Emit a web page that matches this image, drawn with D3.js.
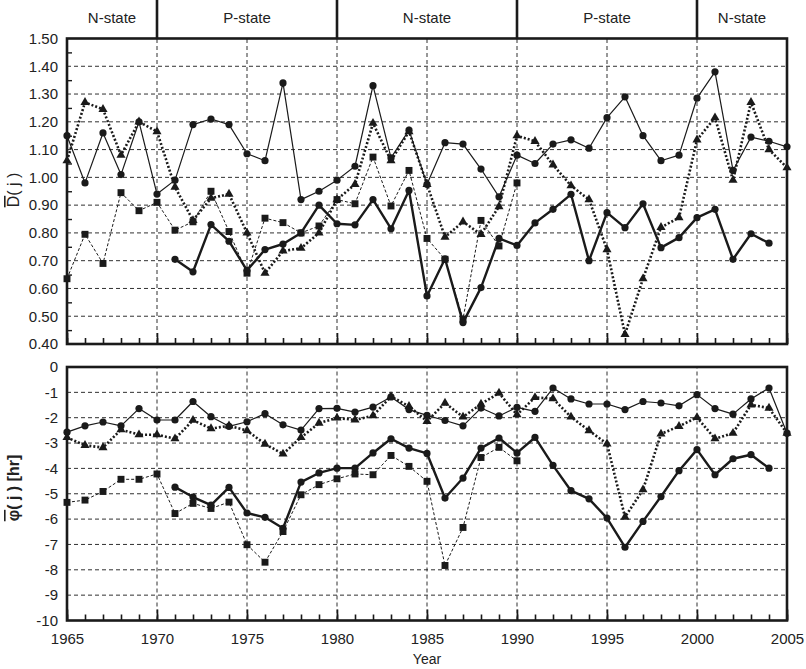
<!DOCTYPE html>
<html><head><meta charset="utf-8">
<script src="https://cdn.jsdelivr.net/npm/d3@7"></script>
<style>
body{margin:0;background:#fff;}
text{font-family:"Liberation Sans",Arial,sans-serif;fill:#222;}
</style></head>
<body><svg id="c" width="806" height="669"></svg>
<script>
const years = [1965,1966,1967,1968,1969,1970,1971,1972,1973,1974,1975,1976,1977,1978,1979,1980,1981,1982,1983,1984,1985,1986,1987,1988,1989,1990,1991,1992,1993,1994,1995,1996,1997,1998,1999,2000,2001,2002,2003,2004,2005];
// top panel D(j)
const dThinCircle = [1.15,0.98,1.16,1.01,1.20,0.94,0.99,1.19,1.21,1.19,1.085,1.06,1.34,0.92,0.95,0.99,1.04,1.33,1.07,1.17,0.975,1.125,1.12,1.03,0.93,1.08,1.05,1.12,1.135,1.105,1.215,1.29,1.15,1.06,1.08,1.285,1.38,1.025,1.145,1.13,1.11];
const dDotTriangle = [1.06,1.27,1.245,1.08,1.20,1.165,0.965,0.845,0.925,0.94,0.80,0.655,0.735,0.745,0.80,0.92,0.975,1.195,1.06,1.165,0.975,0.785,0.84,0.795,0.895,1.15,1.13,1.045,0.97,0.92,0.74,0.435,0.635,0.82,0.855,1.135,1.215,0.99,1.27,1.10,1.035];
const dDashSquare = [0.635,0.795,0.69,0.945,0.88,0.91,0.81,0.84,0.95,0.805,0.655,0.853,0.837,0.80,0.825,0.92,0.905,1.073,0.897,1.025,0.78,0.705,0.49,0.845,0.753,0.98,null,null,null,null,null,null,null,null,null,null,null,null,null,null,null];
const dThickCircle = [null,null,null,null,null,null,0.705,0.66,0.83,0.77,0.665,0.74,0.76,0.80,0.90,0.833,0.829,0.92,0.815,0.953,0.573,0.707,0.477,0.603,0.78,0.755,0.836,0.885,0.939,0.70,0.873,0.819,0.905,0.747,0.783,0.855,0.885,0.705,0.797,0.763,null];
// bottom panel phi(j) [hr]
const pThinCircle = [-2.57,-2.32,-2.17,-2.32,-1.64,-2.09,-2.09,-1.36,-1.96,-2.34,-2.16,-1.84,-2.28,-2.49,-1.64,-1.63,-1.78,-1.58,-1.18,-1.68,-1.91,-2.11,-2.32,-1.62,-1.93,-1.59,-1.75,-0.83,-1.26,-1.46,-1.46,-1.68,-1.36,-1.42,-1.53,-1.09,-1.64,-1.86,-1.26,-0.83,-2.61];
const pDotTriangle = [-2.78,-3.09,-3.18,-2.47,-2.67,-2.67,-2.83,-2.10,-2.43,-2.32,-2.51,-3.04,-3.43,-2.78,-2.21,-2.01,-2.09,-1.92,-1.16,-1.55,-2.14,-1.42,-1.97,-1.46,-1.03,-1.88,-1.20,-1.25,-1.97,-2.51,-3.03,-5.92,-4.84,-2.64,-2.34,-1.99,-2.83,-2.61,-1.49,-1.62,-2.61];
const pDashSquare = [-5.34,-5.25,-4.91,-4.43,-4.43,-4.22,-5.78,-5.38,-5.58,-5.33,-7.01,-7.70,-6.49,-5.04,-4.64,-4.41,-4.22,-4.25,-3.49,-3.92,-4.51,-7.83,-6.33,-3.57,-3.17,-3.70,null,null,null,null,null,null,null,null,null,null,null,null,null,null,null];
const pThickCircle = [null,null,null,null,null,null,-4.74,-5.13,-5.45,-4.75,-5.76,-5.93,-6.36,-4.54,-4.18,-3.99,-3.99,-3.39,-2.83,-3.20,-3.41,-5.17,-4.38,-3.20,-2.80,-3.39,-2.78,-3.88,-4.88,-5.20,-5.96,-7.11,-6.09,-5.11,-4.09,-3.26,-4.25,-3.62,-3.46,-3.99,null];
const topTicks = [0.4,0.5,0.6,0.7,0.8,0.9,1.0,1.1,1.2,1.3,1.4,1.5];
const botTicks = [0,-1,-2,-3,-4,-5,-6,-7,-8,-9,-10];
const yearTicks = [1965,1970,1975,1980,1985,1990,1995,2000,2005];
const stateBounds = [1965,1970,1980,1990,2000,2005];
const stateNames = ["N-state","P-state","N-state","P-state","N-state"];

const svg = d3.select("#c");
const x = d3.scaleLinear().domain([1965,2005]).range([67,787]);
const yT = d3.scaleLinear().domain([0.4,1.5]).range([344,38.5]);
const yB = d3.scaleLinear().domain([-10,0]).range([620.5,367]);
const ink = "#1a1a1a";

function panel(y, ticks, fmt, minorY, series, showX){
  const g = svg.append("g");
  const [y0,y1] = y.range();
  g.selectAll(null).data(ticks.filter(t=>t!==y.domain()[0]&&t!==y.domain()[1])).join("line")
    .attr("x1",x(1965)).attr("x2",x(2005)).attr("y1",d=>y(d)).attr("y2",d=>y(d))
    .attr("stroke",ink).attr("stroke-width",0.9).attr("stroke-dasharray","4,3");
  g.selectAll(null).data(yearTicks.slice(1,-1)).join("line")
    .attr("x1",d=>x(d)).attr("x2",d=>x(d)).attr("y1",y0).attr("y2",y1)
    .attr("stroke",ink).attr("stroke-width",0.9).attr("stroke-dasharray","4,3");
  g.append("g").attr("transform",`translate(0,${y0})`)
    .call(d3.axisBottom(x).tickValues(years).tickSize(-6).tickFormat(""))
    .call(a=>a.select(".domain").remove())
    .call(a=>a.selectAll("line").attr("stroke",ink).attr("stroke-width",1.6));
  g.append("g").attr("transform",`translate(0,${y0})`)
    .call(d3.axisBottom(x).tickValues(yearTicks).tickSize(-11).tickFormat(""))
    .call(a=>a.select(".domain").remove())
    .call(a=>a.selectAll("line").attr("stroke",ink).attr("stroke-width",1.6));
  if(minorY){
    g.append("g").attr("transform",`translate(${x(1965)},0)`)
      .call(d3.axisLeft(y).tickValues(minorY).tickSize(-5).tickFormat(""))
      .call(a=>a.select(".domain").remove())
      .call(a=>a.selectAll("line").attr("stroke",ink).attr("stroke-width",1.4));
  }
  g.append("g").attr("transform",`translate(${x(1965)},0)`)
    .call(d3.axisLeft(y).tickValues(ticks).tickFormat(fmt).tickSize(0).tickPadding(9))
    .call(a=>a.select(".domain").remove())
    .call(a=>a.selectAll("text").attr("font-size",15).attr("fill","#222").attr("font-family","Liberation Sans, Arial, sans-serif"));
  if(showX){
    g.append("g").attr("transform",`translate(0,${y0})`)
      .call(d3.axisBottom(x).tickValues(yearTicks).tickFormat(d=>String(d)).tickSize(0).tickPadding(13))
      .call(a=>a.select(".domain").remove())
      .call(a=>a.selectAll("text").attr("font-size",15).attr("fill","#222").attr("font-family","Liberation Sans, Arial, sans-serif"));
  }
  series.forEach(s=>{
    const pts = years.map((yr,i)=>({yr,v:s.values[i]}));
    const line = d3.line().defined(d=>d.v!==null).x(d=>x(d.yr)).y(d=>y(d.v));
    g.append("path").attr("d",line(pts)).attr("fill","none").attr("stroke",ink)
      .attr("stroke-width",s.w).attr("stroke-dasharray",s.dash||null).attr("stroke-linejoin","round");
    const def = pts.filter(d=>d.v!==null);
    if(s.marker==="circle"){
      g.selectAll(null).data(def).join("circle").attr("cx",d=>x(d.yr)).attr("cy",d=>y(d.v)).attr("r",3.6).attr("fill",ink);
    } else {
      const sym = d3.symbol().type(s.marker==="square"?d3.symbolSquare:d3.symbolTriangle).size(s.marker==="square"?48:36);
      g.selectAll(null).data(def).join("path").attr("d",sym).attr("transform",d=>`translate(${x(d.yr)},${y(d.v)})`).attr("fill",ink);
    }
  });
  g.append("rect").attr("x",x(1965)).attr("y",y1).attr("width",x(2005)-x(1965)).attr("height",y0-y1)
    .attr("fill","none").attr("stroke",ink).attr("stroke-width",2.6);
}

const minorTop = d3.range(9,30,2).map(k=>k*0.05);
panel(yT, topTicks, d3.format(".2f"), minorTop, [
  {values:dDashSquare, marker:"square", w:1, dash:"3,2"},
  {values:dDotTriangle, marker:"triangle", w:2.6, dash:"2,2"},
  {values:dThinCircle, marker:"circle", w:1.2},
  {values:dThickCircle, marker:"circle", w:2.4}
], false);
panel(yB, botTicks, d=>String(d), null, [
  {values:pDashSquare, marker:"square", w:1, dash:"3,2"},
  {values:pDotTriangle, marker:"triangle", w:2.6, dash:"2,2"},
  {values:pThinCircle, marker:"circle", w:1.2},
  {values:pThickCircle, marker:"circle", w:2.4}
], true);

const hdr = svg.append("g");
hdr.selectAll(null).data(stateBounds.slice(1,-1)).join("line")
  .attr("x1",d=>x(d)).attr("x2",d=>x(d)).attr("y1",0).attr("y2",38.5)
  .attr("stroke",ink).attr("stroke-width",2.6);
hdr.selectAll(null).data(stateNames).join("text")
  .attr("x",(d,i)=>(x(stateBounds[i])+x(stateBounds[i+1]))/2).attr("y",23)
  .attr("text-anchor","middle").attr("font-size",15).text(d=>d);

const tTop = svg.append("text").attr("transform","translate(19,190) rotate(-90)")
  .attr("text-anchor","middle").attr("font-size",16);
tTop.append("tspan").attr("text-decoration","overline").text("D");
tTop.append("tspan").text("( j )");
const tBot = svg.append("text").attr("transform","translate(19,488) rotate(-90)")
  .attr("text-anchor","middle").attr("font-size",16).attr("font-weight","bold");
tBot.append("tspan").attr("text-decoration","overline").text("φ");
tBot.append("tspan").text("( j ) [hr]");
svg.append("text").attr("x",427).attr("y",664).attr("text-anchor","middle").attr("font-size",14).text("Year");
</script></body></html>
